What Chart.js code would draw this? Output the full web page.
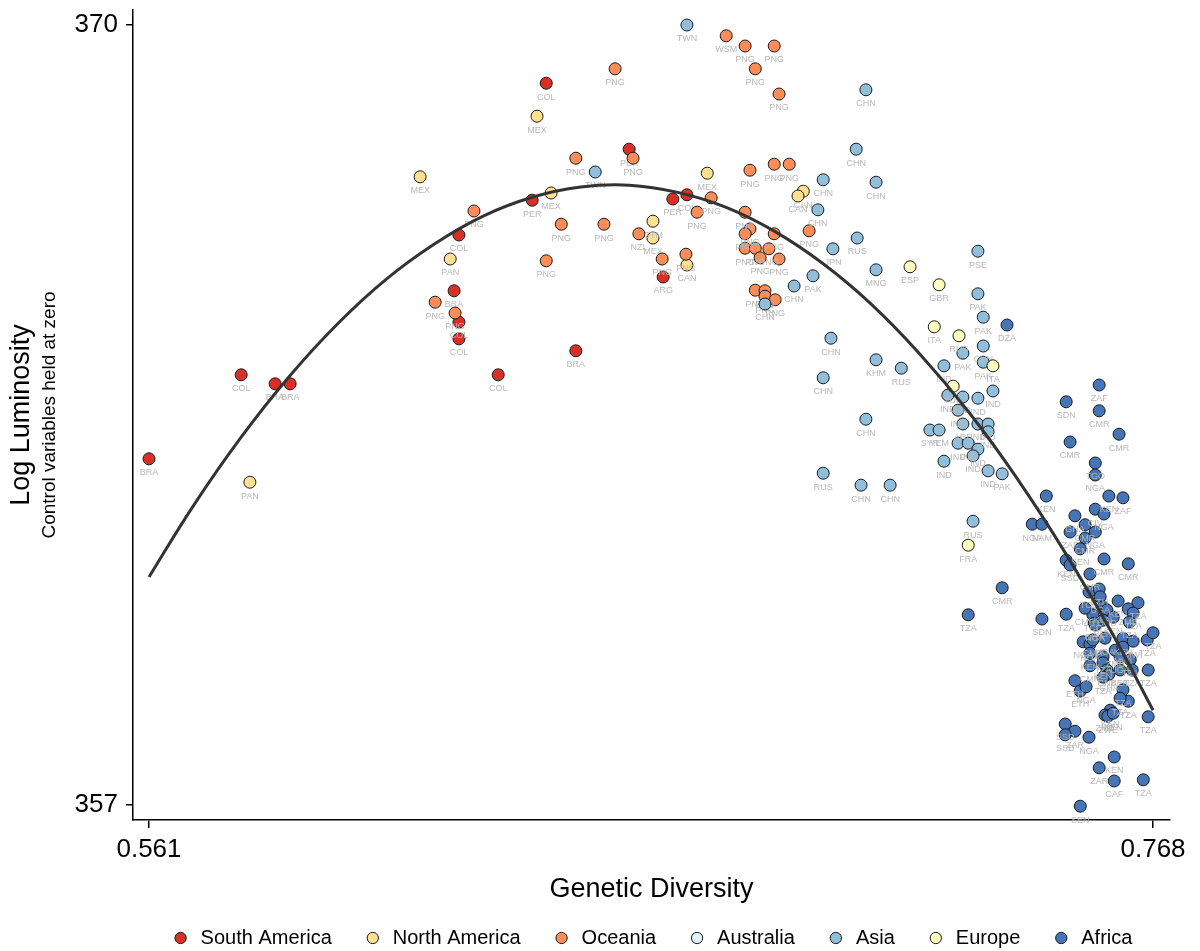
<!DOCTYPE html>
<html><head><meta charset="utf-8">
<script src="https://cdn.jsdelivr.net/npm/chart.js@4"></script>
<style>html,body{margin:0;padding:0;background:#fff}#wrap{width:1200px;height:951px}</style>
</head><body><div id="wrap"><canvas id="c" width="1200" height="951"></canvas></div>
<script>
// ---- data ----
const seriesNames = ['South America','North America','Oceania','Australia','Asia','Europe','Africa'];
const seriesColors = ['#d73027','#fee090','#fc8d59','#e0f3f8','#91bfdb','#ffffbf','#4575b4'];

const saX = [0.5610,0.5800,0.5870,0.5901,0.6249,0.6239,0.6249,0.6249,0.6330,0.6429,0.6400,0.6490,0.6600,0.6690,0.6719,0.6670];
const saY = [362.77,364.17,364.02,364.02,366.50,365.57,365.05,364.77,364.17,369.03,367.08,364.57,367.93,367.10,367.17,365.80];
const saLab = ['BRA','COL','BRA','BRA','COL','BRA','COL','COL','COL','COL','PER','BRA','PER','PER','COL','ARG'];

const naX = [0.5818,0.6169,0.6231,0.6410,0.6439,0.6649,0.6649,0.6719,0.6761,0.6959,0.6948];
const naY = [362.38,367.47,366.10,368.48,367.20,366.73,366.45,366.00,367.53,367.23,367.15];
const naLab = ['PAN','MEX','PAN','MEX','MEX','GTM','MEX','CAN','MEX','CAN','CAN'];

const ocX = [0.6200,0.6241,0.6280,0.6490,0.6460,0.6429,0.6571,0.6548,0.6608,0.6620,0.6668,0.6717,0.6740,0.6769,0.6800,0.6839,0.6899,0.6860,0.6909,0.6849,0.6899,0.6930,0.6839,0.6849,0.6839,0.6839,0.6860,0.6899,0.6888,0.6870,0.6909,0.6971,0.6860,0.6880,0.6880,0.6901];
const ocY = [365.38,365.20,366.90,367.78,366.68,366.07,369.27,366.68,367.78,366.52,366.10,366.18,366.88,367.12,369.82,369.65,369.65,369.27,368.85,367.58,367.68,367.68,366.88,366.60,366.52,366.28,366.28,366.52,366.27,366.12,366.10,366.57,365.58,365.57,365.48,365.42];
const ocLab = ['PNG','PNG','PNG','PNG','PNG','PNG','PNG','PNG','PNG','NZL','PNG','PNG','PNG','PNG','WSM','PNG','PNG','PNG','PNG','PNG','PNG','PNG','PNG','PNG','PNG','PNG','PNG','PNG','PNG','PNG','PNG','PNG','PNG','PNG','PNG','PNG'];

const auX = [];
const auY = [];
const auLab = [];

const asX = [0.6719,0.6530,0.7088,0.7068,0.7000,0.7109,0.6989,0.6880,0.6979,0.6940,0.7020,0.7070,0.7109,0.7016,0.7000,0.7109,0.7161,0.7088,0.7000,0.7078,0.7138,0.7319,0.7319,0.7330,0.7288,0.7330,0.7330,0.7249,0.7350,0.7257,0.7288,0.7319,0.7278,0.7220,0.7239,0.7288,0.7319,0.7340,0.7340,0.7278,0.7299,0.7319,0.7309,0.7249,0.7340,0.7369,0.7309];
const asY = [370.00,367.55,368.92,367.93,367.42,367.38,366.92,365.35,365.82,365.65,366.27,366.45,365.92,364.78,364.12,364.42,364.28,363.43,362.53,362.33,362.33,366.23,365.52,365.13,364.53,364.65,364.38,364.32,363.90,363.83,363.80,363.78,363.58,363.25,363.25,363.35,363.35,363.35,363.22,363.03,363.03,362.93,362.82,362.73,362.57,362.52,361.73];
const asLab = ['TWN','TWN','CHN','CHN','CHN','CHN','CHN','CHN','PAK','CHN','JPN','RUS','MNG','CHN','CHN','KHM','RUS','CHN','RUS','CHN','CHN','PSE','PAK','PAK','PAK','CHN','PAK','IND','IND','IND','IND','IND','IND','SYR','YEM','ARE','IND','IND','IND','IND','IND','IND','IND','IND','IND','PAK','RUS'];

const euX = [0.7179,0.7239,0.7229,0.7280,0.7350,0.7268,0.7299];
const euY = [365.97,365.67,364.97,364.82,364.32,363.98,361.33];
const euLab = ['ESP','GBR','ITA','RUS','ITA','TUR','FRA'];

const afX = [0.7379,0.7569,0.7501,0.7569,0.7610,0.7509,0.7561,0.7561,0.7460,0.7589,0.7618,0.7561,0.7579,0.7431,0.7451,0.7519,0.7509,0.7540,0.7561,0.7540,0.7530,0.7501,0.7509,0.7579,0.7629,0.7550,0.7369,0.7299,0.7451,0.7501,0.7548,0.7569,0.7571,0.7608,0.7649,0.7629,0.7639,0.7631,0.7577,0.7585,0.7556,0.7559,0.7577,0.7598,0.7581,0.7618,0.7639,0.7668,0.7680,0.7536,0.7550,0.7556,0.7602,0.7618,0.7550,0.7577,0.7612,0.7633,0.7550,0.7577,0.7585,0.7612,0.7637,0.7670,0.7589,0.7577,0.7519,0.7530,0.7542,0.7618,0.7629,0.7612,0.7592,0.7581,0.7587,0.7598,0.7670,0.7499,0.7519,0.7499,0.7548,0.7600,0.7569,0.7600,0.7660,0.7530,0.7540,0.7561];
const afY = [365.00,364.00,363.72,363.57,363.18,363.05,362.70,362.50,362.15,362.15,362.12,361.93,361.85,361.68,361.68,361.82,361.55,361.67,361.55,361.45,361.27,361.08,361.00,361.10,361.02,360.85,360.62,360.17,360.10,360.18,360.55,360.60,360.47,360.40,360.37,360.27,360.20,360.05,360.30,360.25,360.17,360.03,360.08,360.13,359.78,359.78,359.73,359.75,359.87,359.72,359.68,359.75,359.58,359.63,359.53,359.47,359.47,359.42,359.32,359.37,359.25,359.25,359.25,359.25,359.18,359.13,359.07,358.90,358.97,358.92,358.73,358.78,358.58,358.50,358.48,358.53,358.47,358.35,358.23,358.17,358.13,357.80,357.62,357.40,357.42,356.98,360.28,360.00];
const afLab = ['DZA','ZAF','SDN','CMR','CMR','CMR','TGO','NGA','KEN','KEN','ZAF','CIV','NGA','NGA','NAM','GHA','ZAF','CMR','NGA','CMR','KEN','KEN','SSD','CMR','CMR','CMR','CMR','TZA','SDN','TZA','TCD','ETH','UGA','KEN','TZA','ZMB','TZA','TZA','KEN','COD','TCD','GHA','BEN','KEN','UGA','KEN','MWI','TZA','TZA','NGA','NGA','CMR','ZMB','MWI','KEN','TZA','UGA','TZA','CMR','KEN','GNB','KEN','TZA','TZA','GHA','TZA','ETH','ETH','NGA','TZA','TZA','TZA','KEN','ZMB','ZWE','KEN','TZA','SSD','ZAR','SSD','NGA','KEN','ZAR','CAF','TZA','SEN','CMR','NGA'];

// fitted quadratic curve
const fitX = [0.561,0.57,0.58,0.59,0.60,0.61,0.62,0.63,0.64,0.65,0.66,0.67,0.68,0.69,0.70,0.71,0.72,0.73,0.74,0.75,0.76,0.768];
const fitY = [360.80,361.97,363.13,364.15,365.03,365.77,366.36,366.82,367.13,367.30,367.33,367.21,366.96,366.56,366.02,365.34,364.51,363.55,362.44,361.19,359.80,358.58];

const xTicks = [0.561, 0.768];
const yTicks = [357, 370];
const xTitle = 'Genetic Diversity';
const yTitle = 'Log Luminosity';
const ySubTitle = 'Control variables held at zero';

// ---- build ----
const FONT = '"Liberation Sans", Arial, Helvetica, sans-serif';
Chart.defaults.font.family = FONT;
Chart.defaults.color = '#000';

const groups = [[saX,saY,saLab],[naX,naY,naLab],[ocX,ocY,ocLab],[auX,auY,auLab],[asX,asY,asLab],[euX,euY,euLab],[afX,afY,afLab]];
const datasets = groups.map((g, k) => ({
  label: seriesNames[k],
  data: g[0].map((x, i) => ({x: x, y: g[1][i]})),
  ptLabels: g[2],
  backgroundColor: seriesColors[k],
  borderColor: '#1a1a1a',
  borderWidth: 1,
  pointRadius: 6,
  pointHoverRadius: 6,
  pointStyle: 'circle',
  order: 7 - k
}));
datasets.push({
  label: 'fit',
  data: fitX.map((x, i) => ({x: x, y: fitY[i]})),
  showLine: true,
  pointRadius: 0,
  borderColor: '#333333',
  borderWidth: 3,
  tension: 0.4,
  fill: false,
  order: 0
});

const labelPlugin = {
  id: 'ptlabels',
  afterDatasetDraw(chart, args) {
    const ds = chart.data.datasets[args.index];
    if (!ds.ptLabels) return;
    const ctx = chart.ctx;
    ctx.save();
    ctx.font = '9px ' + FONT;
    ctx.fillStyle = '#b8b8b8';
    ctx.textAlign = 'center';
    ctx.textBaseline = 'middle';
    args.meta.data.forEach((el, i) => { ctx.fillText(ds.ptLabels[i], el.x, el.y + 14); });
    ctx.restore();
  }
};

const yTitlePlugin = {
  id: 'ytitle',
  afterDraw(chart) {
    const ctx = chart.ctx;
    ctx.save();
    ctx.fillStyle = '#000';
    ctx.textAlign = 'center';
    ctx.textBaseline = 'middle';
    ctx.translate(22, 415);
    ctx.rotate(-Math.PI / 2);
    ctx.font = '27px ' + FONT;
    ctx.fillText(yTitle, 0, 0);
    ctx.font = '19px ' + FONT;
    ctx.fillText(ySubTitle, 0, 28);
    ctx.restore();
  }
};

new Chart(document.getElementById('c'), {
  type: 'scatter',
  data: {datasets: datasets},
  options: {
    responsive: false,
    animation: false,
    devicePixelRatio: 1,
    layout: {padding: {top: 10, right: 30, left: 0, bottom: -7}},
    plugins: {
      tooltip: {enabled: false},
      legend: {
        position: 'bottom',
        fullSize: false,
        labels: {
          usePointStyle: true,
          boxWidth: 20,
          boxHeight: 8,
          padding: 31,
          color: '#000',
          font: {size: 20},
          filter: (it) => it.datasetIndex < 7,
          sort: (a, b) => a.datasetIndex - b.datasetIndex
        }
      }
    },
    scales: {
      x: {
        type: 'linear',
        min: 0.5577,
        max: 0.7715,
        afterBuildTicks: (s) => { s.ticks = xTicks.map(v => ({value: v})); },
        afterFit: (s) => { s.height = 77; s.paddingLeft = 0; s.paddingRight = 0; },
        ticks: {font: {size: 26}, padding: 6, maxRotation: 0, autoSkip: false, callback: (v) => Number(v).toFixed(3)},
        grid: {drawOnChartArea: false, drawTicks: true, tickLength: 8, color: '#000', lineWidth: 1.5},
        border: {display: true, color: '#000', width: 1.5},
        title: {display: true, text: xTitle, font: {size: 27}, padding: {top: 0, bottom: -9}}
      },
      y: {
        type: 'linear',
        min: 356.75,
        max: 370.25,
        afterBuildTicks: (s) => { s.ticks = yTicks.map(v => ({value: v})); },
        afterFit: (s) => { s.width = 133; s.paddingTop = 0; s.paddingBottom = 0; },
        ticks: {font: {size: 26}, padding: 8, autoSkip: false, callback: (v) => String(Math.round(v))},
        grid: {drawOnChartArea: false, drawTicks: true, tickLength: 7, color: '#000', lineWidth: 1.5},
        border: {display: true, color: '#000', width: 1.5}
      }
    }
  },
  plugins: [labelPlugin, yTitlePlugin]
});
</script>
</body></html>
